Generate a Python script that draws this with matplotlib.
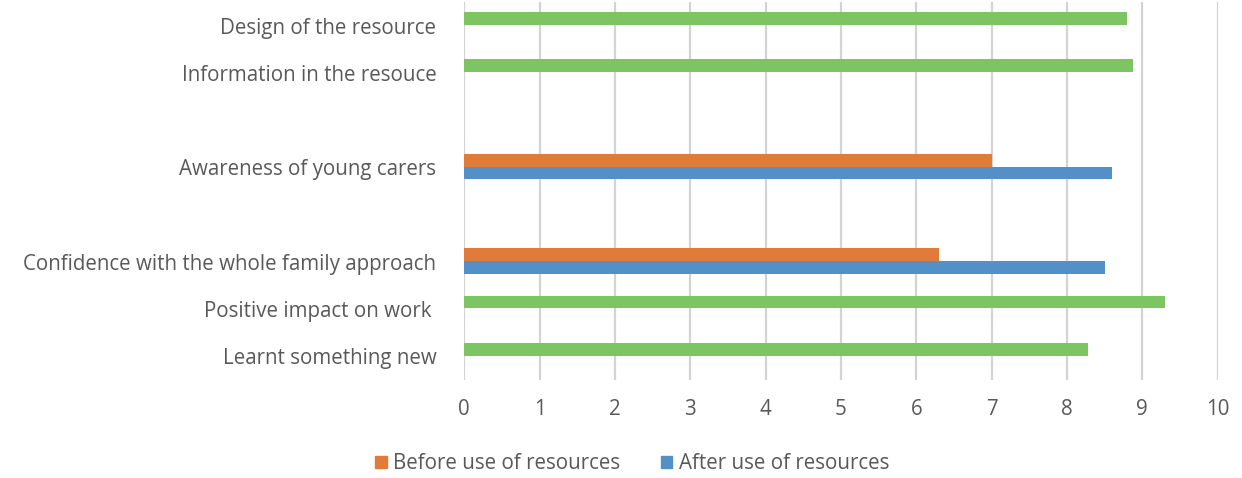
import numpy as np
import matplotlib.pyplot as plt
from matplotlib.patches import Patch

# data
categories = ["Design of the resource", "Information in the resouce",
              "Awareness of young carers", "Confidence with the whole family approach",
              "Positive impact on work ", "Learnt something new"]
before = [np.nan, np.nan, 7.0, 6.3, np.nan, np.nan]
after = [np.nan, np.nan, 8.6, 8.5, np.nan, np.nan]
rating = [8.8, 8.88, np.nan, np.nan, 9.3, 8.28]
xticks = list(range(0, 11))

# layout: category rows (two blank rows between groups)
rows = np.array([7.5, 6.5, 4.5, 2.5, 1.5, 0.5])
h = 0.27

plt.rcParams['font.family'] = ['Open Sans', 'DejaVu Sans']
txt = '#595959'
fs = 14.8

fig = plt.figure(figsize=(12.42, 4.78), dpi=100)
ax = fig.add_axes([0.3738, 0.205, 0.6066, 0.7908])

ax.barh(rows + 0.15, before, height=h, color='#E07B39', zorder=3)
ax.barh(rows - 0.12, after, height=h, color='#5490C8', zorder=3)
ax.barh(rows + 0.15, rating, height=h, color='#7DC462', zorder=3)

ax.set_xlim(0, 10)
ax.set_ylim(0, 8)
ax.set_xticks(xticks)
ax.set_yticks(rows, categories)
ax.grid(axis='x', color='#D3D3D3', linewidth=1.6, zorder=0)
for s in ax.spines.values():
    s.set_visible(False)
ax.tick_params(axis='both', length=0, colors=txt, labelsize=fs)
ax.tick_params(axis='y', pad=20)
ax.tick_params(axis='x', pad=14)

handles = [Patch(color='#E07B39'), Patch(color='#5490C8')]
fig.legend(handles, ['Before use of resources', 'After use of resources'],
           loc='center', bbox_to_anchor=(0.509, 0.03), ncol=2, frameon=False,
           fontsize=fs, labelcolor=txt, handlelength=0.55, handleheight=0.55,
           handletextpad=0.3, columnspacing=2.0)

fig.savefig('out.png', dpi=100)
